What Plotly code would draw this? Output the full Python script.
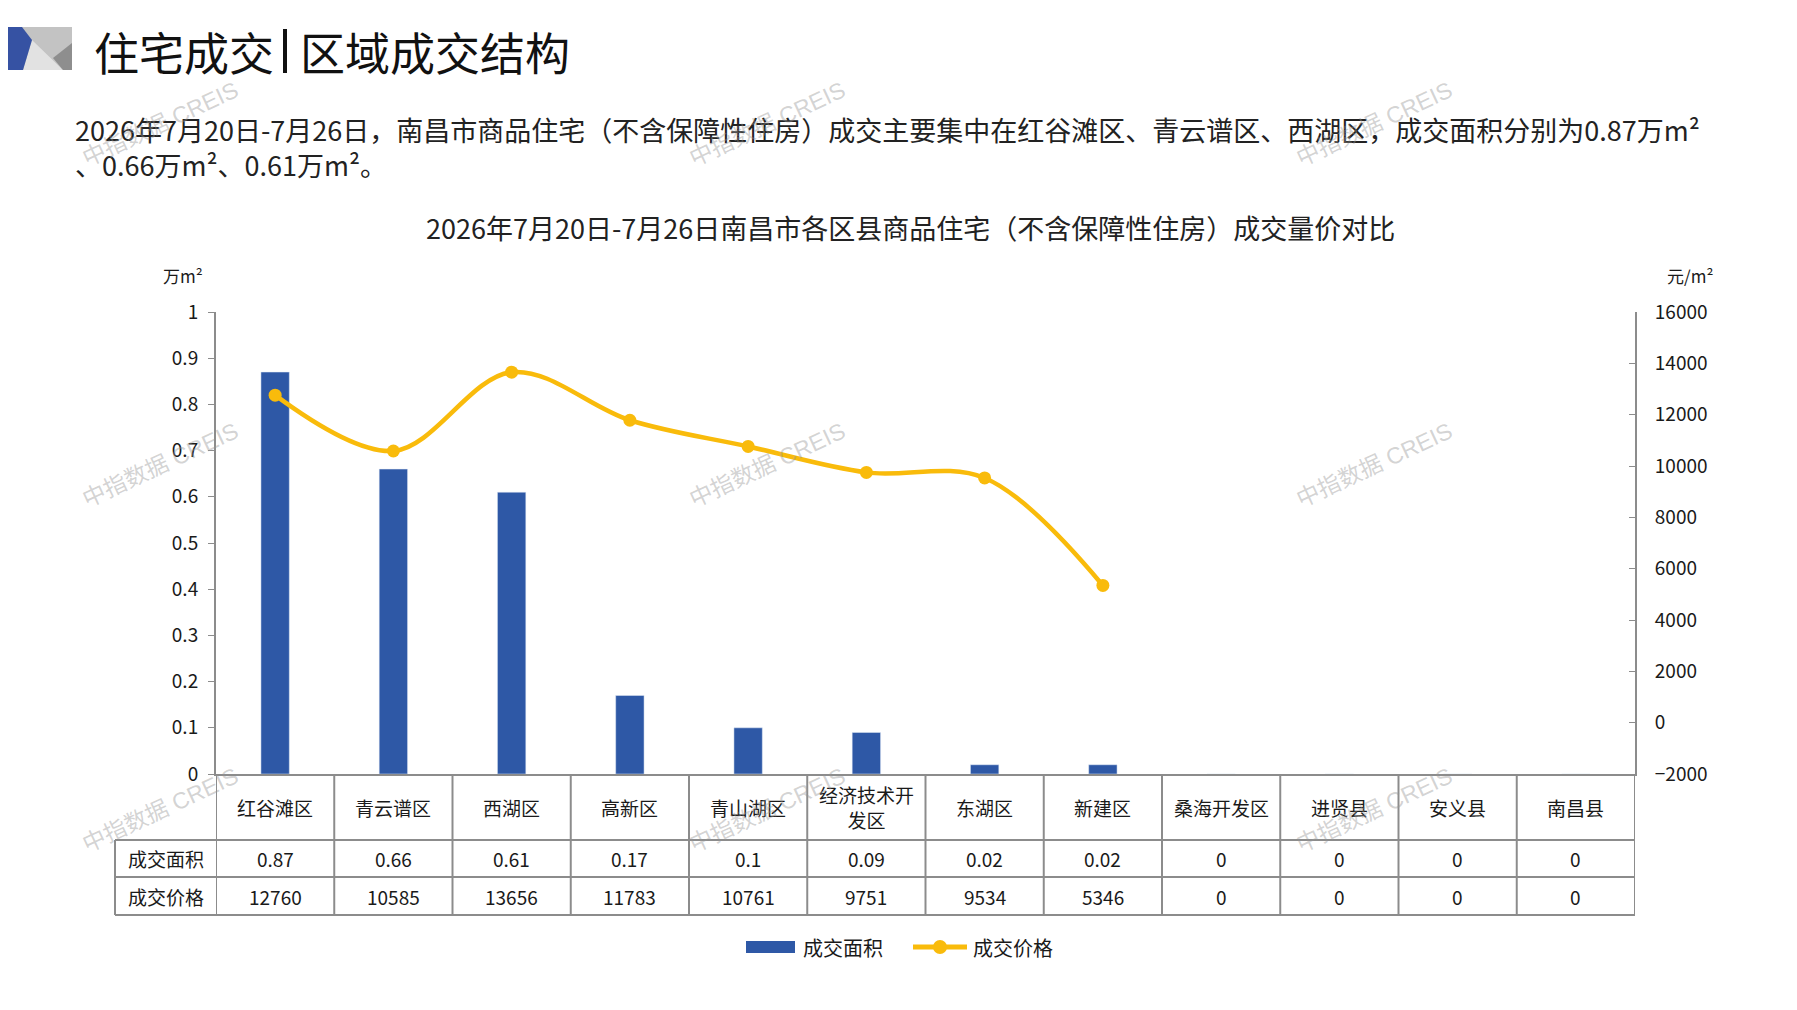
import plotly.graph_objects as go

# 数据
districts = ["红谷滩区", "青云谱区", "西湖区", "高新区", "青山湖区", "经济技术开发区",
             "东湖区", "新建区", "桑海开发区", "进贤县", "安义县", "南昌县"]
area = [0.87, 0.66, 0.61, 0.17, 0.1, 0.09, 0.02, 0.02, 0, 0, 0, 0]
price = [12760, 10585, 13656, 11783, 10761, 9751, 9534, 5346, 0, 0, 0, 0]
row_names = ["成交面积", "成交价格"]

title_left = "住宅成交"
title_right = "区域成交结构"
summary = ("2026年7月20日-7月26日，南昌市商品住宅（不含保障性住房）成交主要集中在红谷滩区、"
           "青云谱区、西湖区，成交面积分别为0.87万m²<br>、0.66万m²、0.61万m²。")
chart_title = "2026年7月20日-7月26日南昌市各区县商品住宅（不含保障性住房）成交量价对比"
watermark = "中指数据 CREIS"

# 页面 body 自带 8px 边距
OFF = 8
W, H = 1781, 994
L, R, T, B = 216, 1635, 312, 774
FONT = "Noto Sans CJK SC"
BLUE = "#2E58A6"
GOLD = "#F9BB0B"
GRID = "#8C8C8C"
TXT = "#1a1a1a"


def fx(px):
    return (px - L) / (R - L)


def fy(py):
    return (B - py) / (B - T)


def poly(points):
    return "M " + " L ".join(f"{fx(a):.5f},{fy(b):.5f}" for a, b in points) + " Z"


def text(x, y, s, size, xanchor="center", xref="paper", color=TXT, **kw):
    return dict(x=x, y=y, xref=xref, yref="paper", text=s, showarrow=False,
                xanchor=xanchor, yanchor="middle",
                font=dict(family=kw.pop("family", FONT), size=size, color=color), **kw)


x_idx = list(range(len(districts)))
line_price = [p if p > 0 else None for p in price]

fig = go.Figure()
fig.add_trace(go.Bar(x=x_idx, y=area, name="成交面积", marker_color=BLUE,
                     width=0.24, yaxis="y"))
fig.add_trace(go.Scatter(x=x_idx, y=line_price, name="成交价格", yaxis="y2",
                         mode="lines+markers",
                         line=dict(color=GOLD, width=4.5, shape="spline", smoothing=1.0),
                         marker=dict(color=GOLD, size=13), connectgaps=False))

shapes = []
ann = []

# 表格
row_y = [fy(840), fy(877), fy(915)]
for i in range(len(districts) + 1):
    shapes.append(dict(type="line", xref="x", yref="paper", x0=i - 0.5, x1=i - 0.5,
                       y0=0, y1=row_y[2], line=dict(color=GRID, width=2)))
shapes.append(dict(type="line", xref="paper", yref="paper", x0=fx(115), x1=fx(115),
                   y0=row_y[0], y1=row_y[2], line=dict(color=GRID, width=2)))
for ry in row_y:
    shapes.append(dict(type="line", xref="paper", yref="paper", x0=fx(115), x1=1,
                       y0=ry, y1=ry, line=dict(color=GRID, width=2)))

for i, name in enumerate(districts):
    label = name if len(name) <= 5 else name[:5] + "<br>" + name[5:]
    ann.append(text(i, row_y[0] / 2, label, 19, xref="x"))
    ann.append(text(i, (row_y[0] + row_y[1]) / 2, f"{area[i]:g}", 19, xref="x"))
    ann.append(text(i, (row_y[1] + row_y[2]) / 2, str(price[i]), 19, xref="x"))
ann.append(text(fx(165.5), (row_y[0] + row_y[1]) / 2, row_names[0], 19))
ann.append(text(fx(165.5), (row_y[1] + row_y[2]) / 2, row_names[1], 19))

# 单位
ann.append(text(fx(183), fy(275), "万m²", 17))
ann.append(text(fx(1690), fy(275), "元/m²", 17))

# 标题区
shapes.append(dict(type="rect", xref="paper", yref="paper", x0=fx(22), x1=fx(72),
                   y0=fy(70), y1=fy(27), fillcolor="#C3C3C3", line_width=0))
shapes.append(dict(type="path", xref="paper", yref="paper",
                   path=poly([(32, 40), (23, 70), (63, 70)]),
                   fillcolor="#E2E2E2", line_width=0))
shapes.append(dict(type="path", xref="paper", yref="paper",
                   path=poly([(72, 43), (53, 58), (63, 70), (72, 70)]),
                   fillcolor="#8E8E8E", line_width=0))
shapes.append(dict(type="path", xref="paper", yref="paper",
                   path=poly([(0, 27), (22, 27), (32, 40), (23, 70), (0, 70)]),
                   fillcolor="#3652A3", line_width=0))
shapes.append(dict(type="rect", xref="paper", yref="paper", x0=fx(283), x1=fx(287),
                   y0=fy(73), y1=fy(29), fillcolor="#111111", line_width=0))

ann.append(text(fx(92), fy(51), title_left, 45, xanchor="left", color="#111111"))
ann.append(text(fx(298), fy(51), title_right, 45, xanchor="left", color="#111111"))
ann.append(text(fx(73), fy(147), summary, 27, xanchor="left", align="left", color="#222222"))
ann.append(text(fx(910), fy(228), chart_title, 27, color="#222222"))

# 图例
shapes.append(dict(type="rect", xref="paper", yref="paper", x0=fx(746), x1=fx(795),
                   y0=fy(953), y1=fy(941), fillcolor=BLUE, line_width=0))
shapes.append(dict(type="line", xref="paper", yref="paper", x0=fx(913), x1=fx(967),
                   y0=fy(947), y1=fy(947), line=dict(color=GOLD, width=5)))
shapes.append(dict(type="circle", xref="paper", yref="paper", x0=fx(933), x1=fx(947),
                   y0=fy(954), y1=fy(940), fillcolor=GOLD, line_width=0))
ann.append(text(fx(801), fy(947), "成交面积", 20, xanchor="left"))
ann.append(text(fx(971), fy(947), "成交价格", 20, xanchor="left"))

# 水印
for wx in (160, 767, 1374):
    for wy in (124, 465, 810):
        ann.append(text(fx(wx), fy(wy), watermark, 23, textangle=-25,
                        family="Liberation Sans, " + FONT, color="rgba(150,150,150,0.42)"))

fig.update_layout(
    width=W, height=H,
    margin=dict(l=L - OFF, r=W - (R - OFF), t=T - OFF, b=H - (B - OFF)),
    plot_bgcolor="white", paper_bgcolor="white",
    showlegend=False,
    bargap=0.76,
    font=dict(family=FONT, size=19, color=TXT),
    xaxis=dict(range=[-0.5, len(districts) - 0.5], showticklabels=False, showgrid=False,
               zeroline=False, showline=True, linecolor=GRID, linewidth=2, ticks=""),
    yaxis=dict(range=[0, 1], dtick=0.1, showgrid=False, zeroline=False, showline=True,
               linecolor=GRID, linewidth=2, ticks="outside", ticklen=6, tickcolor=GRID,
               tickformat="~g", tickfont=dict(size=19), ticklabelstandoff=6),
    yaxis2=dict(range=[-2000, 16000], dtick=2000, overlaying="y", side="right",
                showgrid=False, zeroline=False, showline=True, linecolor=GRID, linewidth=2,
                ticks="inside", ticklen=6, tickcolor=GRID, tickformat="d",
                tickfont=dict(size=19), ticklabelstandoff=14),
    shapes=shapes,
    annotations=ann,
)

fig.write_html("out.html")
